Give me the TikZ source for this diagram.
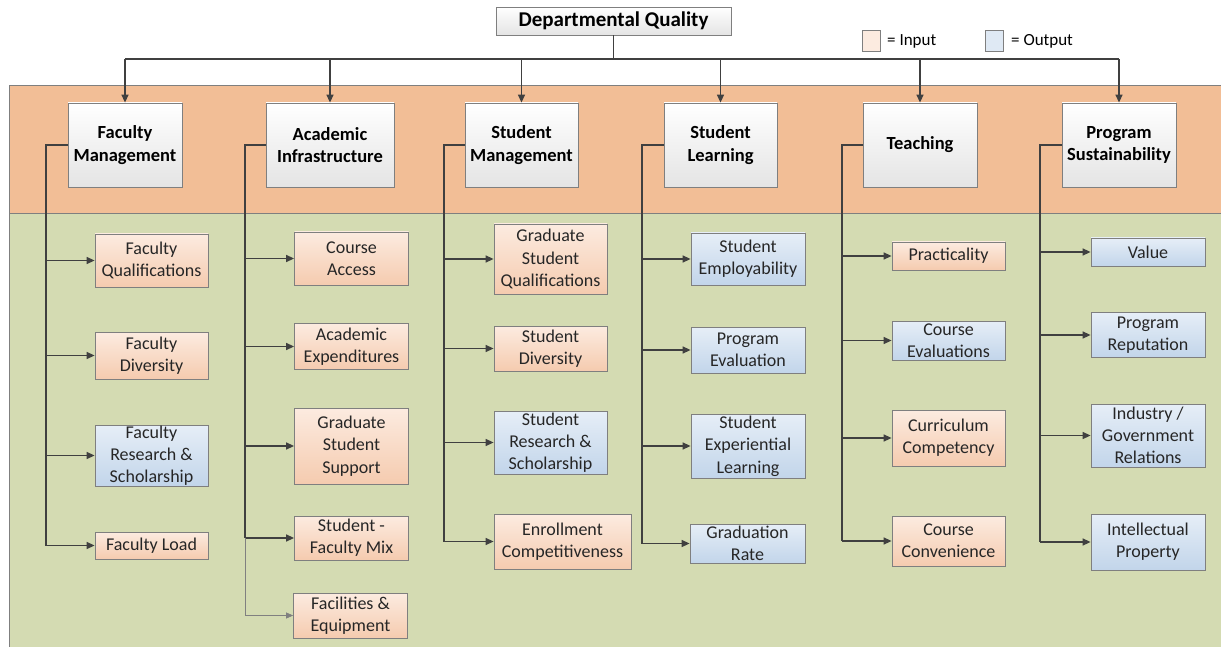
\documentclass[tikz,border=0pt]{standalone}
\usepackage{fontspec}
\setmainfont{Carlito}
\usetikzlibrary{arrows.meta}
\definecolor{bandO}{HTML}{F2BE96}
\definecolor{bandG}{HTML}{D4DBB2}
\definecolor{inTop}{HTML}{FCEBE0}
\definecolor{inBot}{HTML}{F5CBAF}
\definecolor{outTop}{HTML}{E6EEF7}
\definecolor{outBot}{HTML}{C2D5EA}
\definecolor{catBot}{HTML}{E4E4E4}
\definecolor{boxgray}{HTML}{7F7F7F}
\definecolor{conncol}{HTML}{404040}
\definecolor{txt}{HTML}{262626}
\tikzset{
  base/.style={draw=boxgray, line width=0.8pt, align=center, inner sep=0pt, text=txt,
    font=\fontsize{18}{22.3}\selectfont},
  inbox/.style={base, top color=inTop, bottom color=inBot},
  outbox/.style={base, top color=outTop, bottom color=outBot},
  catbox/.style={draw=boxgray, line width=0.8pt, top color=white, bottom color=catBot,
    align=center, inner sep=0pt, text=black, minimum height=84pt,
    font=\bfseries\fontsize{18.5}{22.5}\selectfont},
  line/.style={draw=conncol, line width=1.4pt},
  conn/.style={line, -{Triangle[length=8pt,width=7pt]}},
  thinconn/.style={draw=gray, line width=0.7pt, -{Triangle[length=7pt,width=6pt]}},
  legsq/.style={draw=boxgray, line width=0.8pt, minimum width=18pt, minimum height=21pt, inner sep=0pt},
  legtxt/.style={font=\fontsize{17}{20}\selectfont, text=black, inner sep=0pt, anchor=west}
}
\begin{document}
\begin{tikzpicture}[x=1pt,y=-1pt]
\useasboundingbox (0,0) rectangle (1221,647);
% bands
\fill[bandO] (9,85) rectangle (1221,213);
\fill[bandG] (9,213) rectangle (1221,647);
\draw[boxgray, line width=0.8pt] (1221,85) -- (9,85) -- (9,647);
\draw[boxgray, line width=0.8pt] (9,213) -- (1221,213);

% title and legend
\node[draw=boxgray, line width=0.8pt, top color=white, bottom color=catBot, minimum width=235pt, minimum height=28pt, inner sep=0pt,
  font=\bfseries\fontsize{21}{24}\selectfont] (title) at (613.5,21) {Departmental Quality};
\node[legsq, fill=inTop] (lin) at (871,41) {};
\node[legtxt] (linT) at (887,41) {= Input};
\node[legsq, fill=outTop!80!outBot] (lout) at (994,41) {};
\node[legtxt] (loutT) at (1011,41) {= Output};

% category boxes
\node[catbox, minimum width=114pt] (fm) at (125,145) {Faculty\\Management};
\node[catbox, minimum width=128pt] (ai) at (330,145) {Academic\\Infrastructure};
\node[catbox, minimum width=113pt] (sm) at (521.5,145) {Student\\Management};
\node[catbox, minimum width=113pt] (sl) at (720.5,145) {Student\\Learning};
\node[catbox, minimum width=114pt] (te) at (920,145) {Teaching};
\node[catbox, minimum width=114pt] (ps) at (1119,145) {Program\\Sustainability};

% top connectors
\coordinate (bus) at (613.5,59);
\draw[line] (title.south) -- (title.south |- bus);
\draw[line] (fm.north |- bus) -- (ps.north |- bus);
\foreach \n in {fm,ai,sm,sl,te,ps} \draw[conn] (\n.north |- bus) -- (\n.north);

% Faculty Management column
\node[inbox, minimum width=113pt, minimum height=53pt] (fq) at (151.5,260.5) {Faculty\\Qualifications};
\node[inbox, minimum width=113pt, minimum height=47pt] (fd) at (151.5,355.5) {Faculty\\Diversity};
\node[outbox, minimum width=113pt, minimum height=61pt] (frs) at (151.5,455.5) {Faculty\\Research \&\\Scholarship};
\node[inbox, minimum width=113pt, minimum height=27pt] (fl) at (151.5,545.5) {Faculty Load};
\coordinate (fsp) at (46,145);
\draw[line] (fm.west) -- (fsp) -- (fsp |- fl.west);
\foreach \n in {fq,fd,frs,fl} \draw[conn] (fsp |- \n.west) -- (\n.west);

% Academic Infrastructure column
\node[inbox, minimum width=114pt, minimum height=53pt] (ca) at (351.5,258.5) {Course\\Access};
\node[inbox, minimum width=114pt, minimum height=46pt] (ae) at (351.5,346.5) {Academic\\Expenditures};
\node[inbox, minimum width=114pt, minimum height=76pt] (gss) at (351.5,446) {Graduate\\Student\\Support};
\node[inbox, minimum width=114pt, minimum height=44pt] (sfm) at (351.5,538) {Student -\\Faculty Mix};
\node[inbox, minimum width=114pt, minimum height=45pt] (fe) at (350.5,615.5) {Facilities \&\\Equipment};
\coordinate (asp) at (245,145);
\draw[line] (ai.west) -- (asp) -- (asp |- sfm.west);
\foreach \n in {ca,ae,gss,sfm} \draw[conn] (asp |- \n.west) -- (\n.west);
\draw[draw=gray, line width=0.7pt] (asp |- sfm.west) -- (asp |- fe.west);
\draw[thinconn] (asp |- fe.west) -- (fe.west);

% Student Management column
\node[inbox, minimum width=113pt, minimum height=70pt] (gsq) at (550.5,259) {Graduate\\Student\\Qualifications};
\node[inbox, minimum width=113pt, minimum height=45pt] (sd) at (550.5,348.5) {Student\\Diversity};
\node[outbox, minimum width=113pt, minimum height=63pt] (srs) at (550.5,442.5) {Student\\Research \&\\Scholarship};
\node[inbox, minimum width=137pt, minimum height=55pt] (ec) at (562.5,541.5) {Enrollment\\Competitiveness};
\coordinate (ssp) at (444,145);
\draw[line] (sm.west) -- (ssp) -- (ssp |- ec.west);
\foreach \n in {gsq,sd,srs,ec} \draw[conn] (ssp |- \n.west) -- (\n.west);

% Student Learning column
\node[outbox, minimum width=114pt, minimum height=52pt] (se) at (748,259) {Student\\Employability};
\node[outbox, minimum width=114pt, minimum height=46pt] (pe) at (748,350) {Program\\Evaluation};
\node[outbox, minimum width=114pt, minimum height=64pt] (sel) at (748,446) {Student\\Experiential\\Learning};
\node[outbox, minimum width=115pt, minimum height=39pt] (gr) at (747.5,543.5) {Graduation\\Rate};
\coordinate (lsp) at (642,145);
\draw[line] (sl.west) -- (lsp) -- (lsp |- gr.west);
\foreach \n in {se,pe,sel,gr} \draw[conn] (lsp |- \n.west) -- (\n.west);

% Teaching column
\node[inbox, minimum width=113pt, minimum height=28pt] (pr) at (948.5,256) {Practicality};
\node[outbox, minimum width=113pt, minimum height=39pt] (ce) at (948.5,340.5) {Course\\Evaluations};
\node[inbox, minimum width=113pt, minimum height=56pt] (cc) at (948.5,438) {Curriculum\\Competency};
\node[inbox, minimum width=113pt, minimum height=50pt] (ccv) at (948.5,541) {Course\\Convenience};
\coordinate (tsp) at (842,145);
\draw[line] (te.west) -- (tsp) -- (tsp |- ccv.west);
\foreach \n in {pr,ce,cc,ccv} \draw[conn] (tsp |- \n.west) -- (\n.west);

% Program Sustainability column
\node[outbox, minimum width=114pt, minimum height=28pt] (va) at (1148,252) {Value};
\node[outbox, minimum width=114pt, minimum height=45pt] (rep) at (1148,335) {Program\\Reputation};
\node[outbox, minimum width=114pt, minimum height=63pt] (igr) at (1148,435.5) {Industry /\\Government\\Relations};
\node[outbox, minimum width=114pt, minimum height=56pt] (ip) at (1148,542) {Intellectual\\Property};
\coordinate (psp) at (1040,145);
\draw[line] (ps.west) -- (psp) -- (psp |- ip.west);
\foreach \n in {va,rep,igr,ip} \draw[conn] (psp |- \n.west) -- (\n.west);
\end{tikzpicture}
\end{document}
